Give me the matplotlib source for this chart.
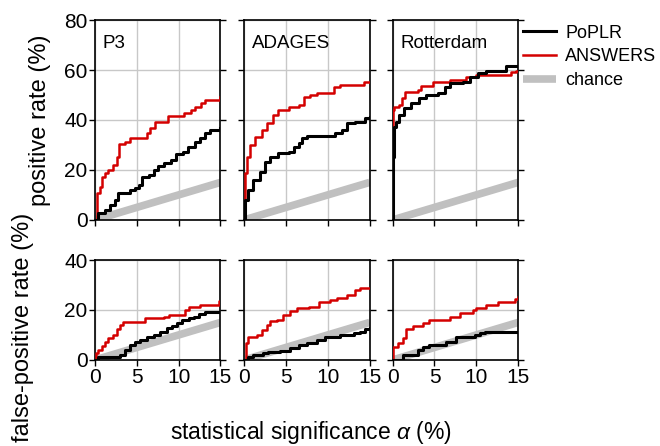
from matplotlib import pyplot as plt
import numpy as np

plt.rcParams['font.family'] = ['Liberation Sans', 'DejaVu Sans']
plt.rcParams['mathtext.fontset'] = 'custom'
plt.rcParams['mathtext.it'] = 'Liberation Sans:italic'
plt.rcParams['mathtext.rm'] = 'Liberation Sans'

cohorts = ["P3", "ADAGES", "Rotterdam"]

# positive rate (%) vs alpha (%)
pos_poplr_x = [
    [0, 0.4, 1.2, 1.8, 2.4, 2.8, 4.2, 4.8, 5.2, 5.6, 6.45, 7.1, 7.5, 8.3, 9.1, 9.7, 10.5, 11.1, 11.9, 12.5, 13.1, 13.7, 14.9, 15],
    [0, 0.12, 0.44, 1.05, 1.9, 2.5, 3.1, 4.1, 5.3, 5.9, 6.5, 6.9, 7.5, 10.3, 10.9, 11.7, 12.3, 13.3, 14.4, 15],
    [0, 0.05, 0.17, 0.4, 0.8, 1.4, 2.2, 3.2, 4.0, 5.4, 6.2, 6.8, 8.4, 9.2, 10.2, 11.2, 13.6, 15],
]
pos_poplr_y = [
    [0, 2.7, 4, 6, 8, 10.7, 12, 12.7, 14, 17.3, 18, 20, 21.7, 22.7, 24, 26.3, 27.3, 29.3, 31.3, 32.7, 34.9, 36, 36.7, 36.7],
    [0, 8, 12, 16, 19.3, 23.3, 25.3, 26.7, 27.3, 29.3, 30.7, 32.7, 33.6, 33.6, 34.7, 36, 38.9, 39.3, 40.7, 41],
    [0, 25.3, 37.3, 39.3, 42, 44.7, 46.7, 48.7, 50, 50.7, 53.3, 54.7, 55.3, 57.3, 58.7, 59.7, 61.6, 61.6],
]
pos_answers_x = [
    [0, 0.2, 0.6, 0.8, 1.2, 1.6, 2.2, 2.6, 2.9, 3.6, 4.2, 6.2, 6.6, 7.2, 8.7, 10.7, 11.5, 11.9, 12.7, 13.1, 14.9, 15],
    [0, 0.1, 0.3, 0.7, 1.3, 2.1, 2.7, 3.5, 4.1, 5.3, 6.5, 7.1, 7.9, 8.7, 10.7, 11.5, 14.3, 15],
    [0, 0.05, 0.1, 0.7, 1.1, 1.5, 3.0, 3.4, 4.8, 6.8, 8.8, 10.0, 14.2, 14.8, 15],
]
pos_answers_y = [
    [0, 10.7, 13.3, 17.3, 18.7, 20, 22, 25.3, 30.4, 31.3, 32.7, 34.7, 36.7, 39.3, 41.6, 42.7, 44, 45.3, 46.7, 48, 49, 49],
    [0, 18.7, 25.3, 30, 33.3, 36, 38.7, 42, 44, 45.3, 46, 49.3, 50, 50.7, 53.3, 54, 55.3, 55.3],
    [0, 44, 45.3, 46, 48.7, 51.3, 52, 53.6, 55.3, 56, 57.1, 58, 59.3, 59.7, 59.7],
]

# false-positive rate (%) vs alpha (%)
fp_poplr_x = [
    [0, 0.3, 3.0, 3.6, 4.2, 4.8, 5.4, 6.2, 7.0, 7.8, 8.6, 9.2, 9.8, 10.4, 11.2, 11.8, 12.4, 13.2, 15],
    [0, 0.5, 1.1, 2.3, 2.9, 4.3, 5.5, 6.5, 7.5, 8.7, 9.7, 10.7, 11.5, 13.1, 13.9, 14.5, 15],
    [0, 1.2, 3.0, 3.6, 4.4, 6.4, 7.6, 9.8, 10.4, 11.0, 15],
]
fp_poplr_y = [
    [0, 1, 2, 4, 6, 7.3, 8, 9.1, 10, 11.3, 12.7, 13.6, 14.7, 16, 16.7, 17.3, 18.4, 19.1, 19.1],
    [0, 1.3, 2, 2.7, 3.3, 3.6, 4.7, 6, 6.7, 8, 9.1, 9.3, 10, 10.7, 11.3, 12.3, 12.7],
    [0, 2, 4, 5.3, 6, 7.3, 9.3, 10, 10.7, 11.3, 11.3],
]
fp_answers_x = [
    [0, 0.1, 0.4, 0.8, 1.2, 1.6, 2.2, 2.6, 3.0, 3.4, 6.0, 8.2, 8.8, 10.8, 11.2, 12.6, 14.8, 15],
    [0, 0.2, 0.5, 1.5, 2.1, 2.7, 3.1, 3.9, 4.7, 5.5, 6.3, 7.7, 8.9, 10.3, 11.1, 12.3, 13.3, 13.9, 15],
    [0, 0.05, 0.6, 1.2, 1.6, 2.4, 3.6, 4.4, 6.8, 8.0, 9.6, 10.0, 11.2, 12.6, 14.6, 15],
]
fp_answers_y = [
    [0, 2.7, 4, 5.6, 7.3, 8.7, 10, 12.3, 14, 15.3, 16.7, 17.3, 18, 20, 21.3, 22, 23.6, 23.6],
    [0, 6.7, 9.3, 10, 12, 14, 15.7, 16, 18, 19.7, 20.7, 21.3, 23.3, 24, 24.7, 26, 28, 28.7, 28.7],
    [0, 5.3, 6.7, 8.7, 12.3, 13.6, 14.7, 16, 17.3, 18.7, 20, 20.7, 22, 23.3, 24.3, 25],
]

chance_x = [0, 15]
chance_y = [0, 15]

red = '#d40000'
gray = '#c0c0c0'

fig = plt.figure(figsize=(6.6, 4.46), dpi=100)
lefts = [0.144, 0.370, 0.595]
w = 0.19
top_row = [0.507, 0.448]
bot_row = [0.193, 0.224]


def style_ax(ax, ymax, show_y, show_x):
    ax.set_xlim(0, 15)
    ax.set_ylim(0, ymax)
    ax.set_xticks([0, 5, 10, 15])
    ax.set_yticks(np.arange(0, ymax + 1, 20))
    ax.grid(True, color='#c8c8c8', linewidth=1)
    ax.set_axisbelow(True)
    ax.tick_params(direction='out', length=4, width=1, labelsize=15, right=True,
                   labelleft=show_y, labelbottom=show_x, pad=1.5)
    for s in ax.spines.values():
        s.set_linewidth(1.2)


for i, name in enumerate(cohorts):
    ax = fig.add_axes([lefts[i], top_row[0], w, top_row[1]])
    ax.plot(chance_x, chance_y, color=gray, lw=5.5, solid_capstyle='butt', label='chance', zorder=2)
    ax.plot(pos_answers_x[i], pos_answers_y[i], color=red, lw=1.8, drawstyle='steps-post', label='ANSWERS', zorder=3)
    ax.plot(pos_poplr_x[i], pos_poplr_y[i], color='black', lw=2.2, drawstyle='steps-post', label='PoPLR', zorder=4)
    style_ax(ax, 80, i == 0, False)
    ax.text(0.06, 0.925, name, transform=ax.transAxes, fontsize=13.5, va='top', ha='left')
    if i == 2:
        h, l = ax.get_legend_handles_labels()
        ax.legend([h[2], h[1], h[0]], [l[2], l[1], l[0]], loc='upper left',
                  bbox_to_anchor=(1.0, 1.0), frameon=False, fontsize=13,
                  handlelength=1.85, handletextpad=0.5, labelspacing=0.38,
                  borderaxespad=0.0, borderpad=0.25)

    bx = fig.add_axes([lefts[i], bot_row[0], w, bot_row[1]])
    bx.plot(chance_x, chance_y, color=gray, lw=5.5, solid_capstyle='butt', zorder=2)
    bx.plot(fp_answers_x[i], fp_answers_y[i], color=red, lw=1.8, drawstyle='steps-post', zorder=3)
    bx.plot(fp_poplr_x[i], fp_poplr_y[i], color='black', lw=2.2, drawstyle='steps-post', zorder=4)
    style_ax(bx, 40, i == 0, True)

fig.text(0.061, 0.731, 'positive rate (%)', rotation=90, fontsize=17, ha='center', va='center')
fig.text(0.035, 0.522, 'false-positive rate (%)', rotation=90, fontsize=17, ha='center', va='top')
fig.text(0.471, 0.031, r'statistical significance $\alpha$ (%)', fontsize=16.5, ha='center', va='center')

plt.savefig('out.png', dpi=100)
